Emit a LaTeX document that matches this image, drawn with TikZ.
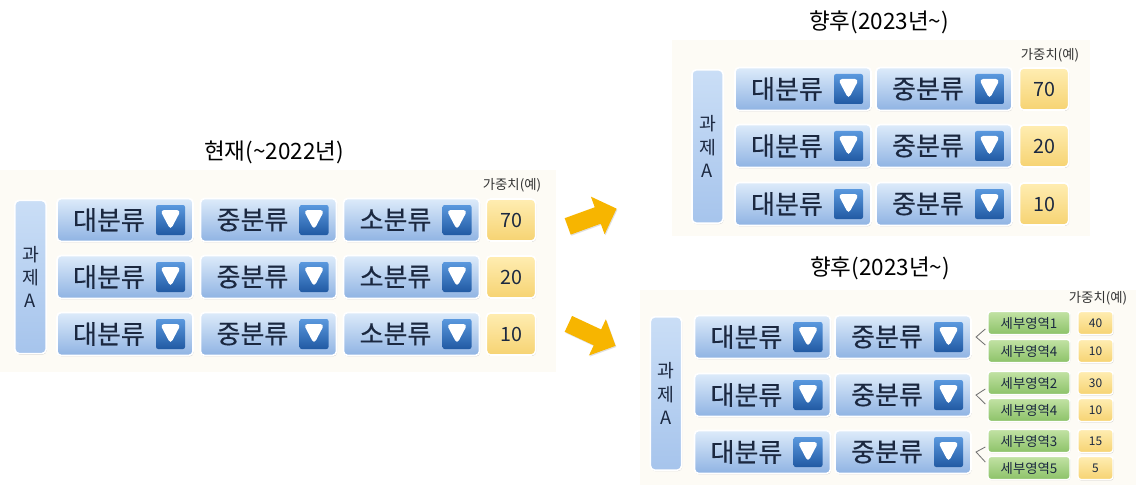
\documentclass[tikz,border=0pt]{standalone}
\usepackage{fontspec}
\setmainfont{Noto Sans CJK KR}
\newfontfamily\boxfont{Noto Sans CJK KR}[FakeBold=0.4]
\usepackage{xcolor}
\usepackage{tikz}
\usetikzlibrary{shapes, arrows.meta, positioning, calc, shadows}

\definecolor{panel}{HTML}{FDFBF5}
\definecolor{ink}{HTML}{1B2840}
\definecolor{cbtop}{HTML}{DDEBFA}
\definecolor{cbmid}{HTML}{BCD5F2}
\definecolor{cbbot}{HTML}{8FB3E3}
\definecolor{ictop}{HTML}{5A98DE}
\definecolor{icbot}{HTML}{215AA3}
\definecolor{tktop}{HTML}{CADEF6}
\definecolor{tkbot}{HTML}{A6C4EC}
\definecolor{wtop}{HTML}{FFEDB2}
\definecolor{wbot}{HTML}{F6D372}
\definecolor{gtop}{HTML}{C2E2A4}
\definecolor{gbot}{HTML}{8CC268}
\definecolor{gold}{HTML}{F7B500}

\begin{document}
\begin{tikzpicture}[x=0.025cm, y=-0.025cm,
    combo/.style={rectangle, rounded corners=3pt, draw=white, line width=1.2pt,
        top color=cbtop, middle color=cbmid, bottom color=cbbot,
        minimum width=3.4cm, minimum height=1.075cm, inner sep=0pt,
        text=ink, font=\boxfont\fontsize{18.5}{18.5}\selectfont,
        drop shadow={shadow xshift=0.4pt, shadow yshift=-0.7pt, opacity=0.4},
        path picture={
            \path (path picture bounding box.east) coordinate (pe);
            \shade[top color=ictop, bottom color=icbot, rounded corners=1.5pt]
                (pe) ++(-37,-15) rectangle ++(29,30);
            \fill[white] (pe) ++(-33,-10) -- ++(21,0) -- ++(-10.5,20) -- cycle;
        }},
    task/.style={rectangle, rounded corners=3pt, draw=white, line width=1.2pt,
        top color=tktop, bottom color=tkbot, minimum width=0.78cm,
        minimum height=3.83cm, inner sep=0pt, align=center, text=ink,
        font=\fontsize{13}{16.5}\selectfont,
        drop shadow={shadow xshift=0.4pt, shadow yshift=-0.7pt, opacity=0.4}},
    weight/.style={rectangle, rounded corners=3pt, draw=white, line width=1.2pt,
        top color=wtop, bottom color=wbot, minimum width=1.23cm,
        minimum height=1.05cm, inner sep=0pt, text=ink,
        font=\fontsize{14}{14}\selectfont,
        drop shadow={shadow xshift=0.4pt, shadow yshift=-0.7pt, opacity=0.4}},
    area/.style={rectangle, rounded corners=2pt, draw=white, line width=1pt,
        top color=gtop, bottom color=gbot, minimum width=2.05cm,
        minimum height=0.575cm, inner sep=0pt, text=ink,
        font=\fontsize{9.5}{9.5}\selectfont,
        drop shadow={shadow xshift=0.3pt, shadow yshift=-0.5pt, opacity=0.4}},
    sweight/.style={weight, rounded corners=2pt, line width=1pt,
        minimum width=0.875cm, minimum height=0.575cm,
        font=\fontsize{8.5}{8.5}\selectfont},
    heading/.style={text=black, font=\fontsize{16}{16}\selectfont},
    note/.style={text=black!80, font=\fontsize{9.5}{9.5}\selectfont},
    bigarrow/.style={single arrow, fill=gold, inner xsep=0pt, inner ysep=0.21cm,
        minimum height=1.3cm, minimum width=1cm, single arrow head extend=0.28cm,
        drop shadow={shadow xshift=0.6pt, shadow yshift=-0.8pt, opacity=0.25}},
    link/.style={draw=black!55, line width=0.6pt}
]
    \useasboundingbox (0,0) rectangle (1136,485);

    % Panels
    \fill[panel] (0,170) rectangle (556,372);
    \fill[panel] (672,40) rectangle (1090,236);
    \fill[panel] (640,290) rectangle (1136,485);

    % Current (~2022)
    \node[heading] (curtitle) at (274,152) {현재(\textasciitilde2022년)};
    \node[note] (curnote) at (512,185) {가중치(예)};
    \node[task] (curtask) at (30.5,277) {과\\제\\A};

    \node[combo] (lbig1) at (125,220) {대분류\hspace*{0.8cm}};
    \node[combo] (lmid1) at (268.5,220) {중분류\hspace*{0.8cm}};
    \node[combo] (lsmall1) at (411.5,220) {소분류\hspace*{0.8cm}};
    \node[weight] (lw1) at (511,220) {70};

    \node[combo] (lbig2) at (125,277) {대분류\hspace*{0.8cm}};
    \node[combo] (lmid2) at (268.5,277) {중분류\hspace*{0.8cm}};
    \node[combo] (lsmall2) at (411.5,277) {소분류\hspace*{0.8cm}};
    \node[weight] (lw2) at (511,277) {20};

    \node[combo] (lbig3) at (125,334) {대분류\hspace*{0.8cm}};
    \node[combo] (lmid3) at (268.5,334) {중분류\hspace*{0.8cm}};
    \node[combo] (lsmall3) at (411.5,334) {소분류\hspace*{0.8cm}};
    \node[weight] (lw3) at (511,334) {10};

    % Arrows
    \node[bigarrow, rotate=20] (arrowup) at (588,219) {};
    \node[bigarrow, rotate=-25] (arrowdown) at (588,333) {};

    % Next (2023~), two levels
    \node[heading] (toptitle) at (879,22) {향후(2023년\textasciitilde)};
    \node[note] (topnote) at (1050,55) {가중치(예)};
    \node[task] (toptask) at (707.5,146.5) {과\\제\\A};

    \node[combo] (tbig1) at (803,89) {대분류\hspace*{0.8cm}};
    \node[combo] (tmid1) at (944,89) {중분류\hspace*{0.8cm}};
    \node[weight] (tw1) at (1044,89) {70};

    \node[combo] (tbig2) at (803,146) {대분류\hspace*{0.8cm}};
    \node[combo] (tmid2) at (944,146) {중분류\hspace*{0.8cm}};
    \node[weight] (tw2) at (1044,146) {20};

    \node[combo] (tbig3) at (803,204) {대분류\hspace*{0.8cm}};
    \node[combo] (tmid3) at (944,204) {중분류\hspace*{0.8cm}};
    \node[weight] (tw3) at (1044,204) {10};

    % Next (2023~), with sub areas
    \node[heading] (bottitle) at (880,268) {향후(2023년\textasciitilde)};
    \node[note] (botnote) at (1098,298) {가중치(예)};
    \node[task] (bottask) at (666,393.5) {과\\제\\A};

    \node[combo] (bbig1) at (762.5,337) {대분류\hspace*{0.8cm}};
    \node[combo] (bmid1) at (903,337) {중분류\hspace*{0.8cm}};
    \node[area] (ba1) at (1029,323) {세부영역1};
    \node[area] (bb1) at (1029,351) {세부영역4};
    \node[sweight] (bwa1) at (1095.5,323) {40};
    \node[sweight] (bwb1) at (1095.5,351) {10};

    \node[combo] (bbig2) at (762.5,395) {대분류\hspace*{0.8cm}};
    \node[combo] (bmid2) at (903,395) {중분류\hspace*{0.8cm}};
    \node[area] (ba2) at (1029,383) {세부영역2};
    \node[area] (bb2) at (1029,410) {세부영역4};
    \node[sweight] (bwa2) at (1095.5,383) {30};
    \node[sweight] (bwb2) at (1095.5,410) {10};

    \node[combo] (bbig3) at (762.5,452) {대분류\hspace*{0.8cm}};
    \node[combo] (bmid3) at (903,452) {중분류\hspace*{0.8cm}};
    \node[area] (ba3) at (1029,441) {세부영역3};
    \node[area] (bb3) at (1029,468) {세부영역5};
    \node[sweight] (bwa3) at (1095.5,441) {15};
    \node[sweight] (bwb3) at (1095.5,468) {5};

    % Splits
    \coordinate (fork1) at ([xshift=3]bmid1.east);
    \coordinate (fork2) at ([xshift=3]bmid2.east);
    \coordinate (fork3) at ([xshift=3]bmid3.east);
    \draw[link] ([shift={(-2,6)}]ba1.west) -- (fork1) -- ([shift={(-2,-6)}]bb1.west);
    \draw[link] ([shift={(-2,6)}]ba2.west) -- (fork2) -- ([shift={(-2,-6)}]bb2.west);
    \draw[link] ([shift={(-2,6)}]ba3.west) -- (fork3) -- ([shift={(-2,-6)}]bb3.west);

\end{tikzpicture}
\end{document}
